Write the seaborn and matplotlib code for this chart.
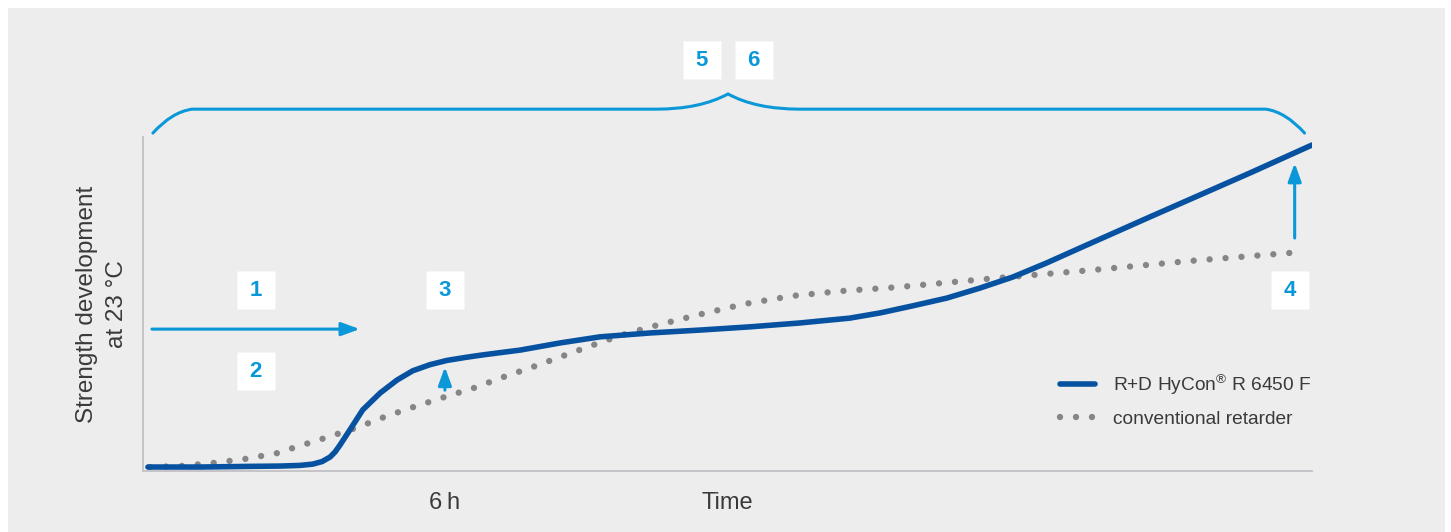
import matplotlib
matplotlib.use("Agg")
import matplotlib.pyplot as plt
import seaborn as sns
import pandas as pd
from matplotlib.patches import Rectangle, PathPatch
from matplotlib.path import Path


# strength development over time (hours / relative strength)
TIME_RD = [0.0, 1.05, 2.06, 2.67, 3.07, 3.33, 3.52, 3.68, 3.78, 3.88, 4.08,
           4.34, 4.69, 5.03, 5.35, 5.70, 6.04, 6.40, 6.71, 7.11, 7.52, 8.32,
           9.13, 10.14, 11.15, 12.16, 13.17, 14.18, 14.79, 15.45, 16.14, 16.81,
           17.47, 18.16, 18.83, 20.24, 21.25, 22.26, 23.52]
STRENGTH_RD = [0.3, 0.3, 0.5, 0.6, 0.8, 1.2, 2.0, 3.4, 4.95, 7.1, 11.8,
               18.0, 23.2, 27.2, 30.1, 32.0, 33.3, 34.2, 34.9, 35.7, 36.5, 38.7,
               40.6, 41.8, 42.7, 43.7, 44.9, 46.4, 48.0, 50.2, 52.6, 55.7,
               59.1, 63.5, 68.1, 77.7, 84.5, 91.3, 100.0]

TIME_CONV = [0.04, 0.65, 1.29, 1.96, 2.61, 2.93, 3.58, 4.20, 4.83, 5.37, 6.00,
             6.59, 7.19, 7.78, 8.28, 8.89, 9.52, 10.16, 11.11, 12.06, 13.03,
             14.02, 15.15, 17.15, 19.09, 21.05, 23.33]
STRENGTH_CONV = [0.3, 0.6, 1.5, 2.8, 4.6, 6.2, 9.3, 12.4, 16.1, 18.9, 22.0,
                 24.8, 28.2, 31.3, 34.1, 37.5, 40.9, 43.7, 47.4, 50.8, 53.3,
                 54.8, 56.0, 58.8, 61.3, 64.1, 66.9]

LABEL_RD = "R+D HyCon$^{\\mathregular{®}}$ R 6450 F"
LABEL_CONV = "conventional retarder"
X_TICKS = [6]
X_TICK_LABELS = ["6\u2009h"]

# numbered callouts: label, x, y
MARKERS = [("1", 2.18, 55.1), ("2", 2.18, 30.0), ("3", 6.0, 55.1),
           ("4", 23.07, 55.1), ("5", 11.19, 126.3), ("6", 12.24, 126.3)]

DARK_BLUE = "#0652a1"
LIGHT_BLUE = "#0a98d8"
GREY_DOTS = "#86868a"
BG = "#ededed"
TEXT = "#3a3a3a"


def draw_arrow(ax, start, end):
    ax.annotate(
        "", xy=end, xytext=start,
        arrowprops=dict(arrowstyle="-|>,head_length=0.55,head_width=0.2",
                        mutation_scale=20, lw=2.2, color=LIGHT_BLUE,
                        shrinkA=0, shrinkB=0),
        annotation_clip=False,
    )


def draw_brace(ax):
    verts = [(0.10, 103.7), (0.48, 110.2), (0.89, 111.1),
             (10.28, 111.1),
             (11.15, 111.1), (11.72, 115.8),
             (12.28, 111.1), (13.17, 111.1),
             (22.59, 111.1),
             (22.99, 110.2), (23.37, 103.7)]
    codes = [Path.MOVETO, Path.CURVE3, Path.CURVE3,
             Path.LINETO,
             Path.CURVE3, Path.CURVE3,
             Path.CURVE3, Path.CURVE3,
             Path.LINETO,
             Path.CURVE3, Path.CURVE3]
    patch = PathPatch(Path(verts, codes), facecolor="none", edgecolor=LIGHT_BLUE,
                      lw=2.2, clip_on=False, capstyle="round")
    ax.add_patch(patch)


def main():
    sns.set_theme(style="white")
    plt.rcParams["font.family"] = ["Liberation Sans", "DejaVu Sans"]
    plt.rcParams["mathtext.fontset"] = "custom"
    plt.rcParams["mathtext.rm"] = "Liberation Sans"

    fig = plt.figure(figsize=(14.51, 5.32), dpi=100, facecolor="white")
    fig.patches.append(Rectangle((8 / 1451, 0), 1437 / 1451, 524 / 532,
                                 transform=fig.transFigure, facecolor=BG,
                                 edgecolor="none", zorder=-10))
    ax = fig.add_axes([143 / 1451, 61 / 532, 1169 / 1451, 334 / 532])
    ax.set_facecolor("none")

    rd = pd.DataFrame({"time": TIME_RD, "strength": STRENGTH_RD})
    conv = pd.DataFrame({"time": TIME_CONV, "strength": STRENGTH_CONV})

    sns.lineplot(data=conv, x="time", y="strength", ax=ax, color=GREY_DOTS,
                 lw=4.6, label=LABEL_CONV, sort=False)
    dotted = ax.lines[-1]
    dotted.set_linestyle((0, (0.001, 2.5)))
    dotted.set_dash_capstyle("round")

    sns.lineplot(data=rd, x="time", y="strength", ax=ax, color=DARK_BLUE,
                 lw=4, label=LABEL_RD, sort=False)
    ax.lines[-1].set_solid_capstyle("round")
    ax.lines[-1].set_solid_joinstyle("round")

    ax.set_xlim(-0.1, 23.52)
    ax.set_ylim(-0.93, 102.48)

    for side in ["top", "right"]:
        ax.spines[side].set_visible(False)
    for side in ["left", "bottom"]:
        ax.spines[side].set_color("#c4c4c8")
        ax.spines[side].set_linewidth(1.4)

    ax.set_xticks(X_TICKS)
    ax.set_xticklabels(X_TICK_LABELS, fontsize=17, color=TEXT)
    ax.set_yticks([])
    ax.tick_params(axis="x", length=0, pad=15)

    ax.set_xlabel("Time", fontsize=17, color=TEXT)
    ax.xaxis.set_label_coords(0.5, -0.097)
    ax.xaxis.label.set_va("center")
    ax.set_ylabel("Strength development\nat 23 °C", fontsize=17.5, color=TEXT,
                  linespacing=1.45)
    ax.yaxis.set_label_coords(-0.035, 0.5)
    ax.yaxis.label.set_va("center")

    # arrows and brace
    draw_arrow(ax, (0.08, 43.0), (4.28, 43.0))
    draw_arrow(ax, (6.0, 24.1), (6.0, 31.3))
    draw_arrow(ax, (23.17, 71.2), (23.17, 94.4))
    draw_brace(ax)

    for label, x, y in MARKERS:
        ax.plot([x], [y], marker="s", ms=27.4, mfc="white", mec="none",
                clip_on=False, zorder=5)
        ax.text(x, y, label, ha="center", va="center", fontsize=16,
                fontweight="bold", color=LIGHT_BLUE, zorder=6, clip_on=False)

    handles, labels = ax.get_legend_handles_labels()
    leg = ax.legend(handles[::-1], labels[::-1], loc="upper left",
                    bbox_to_anchor=(0.7844, 0.296), frameon=False,
                    fontsize=13.8, handlelength=1.85, handletextpad=0.9,
                    labelspacing=0.72, borderpad=0, borderaxespad=0)
    for t in leg.get_texts():
        t.set_color(TEXT)

    fig.savefig("out.png", dpi=100, facecolor="white")
    plt.close(fig)


if __name__ == "__main__":
    main()
